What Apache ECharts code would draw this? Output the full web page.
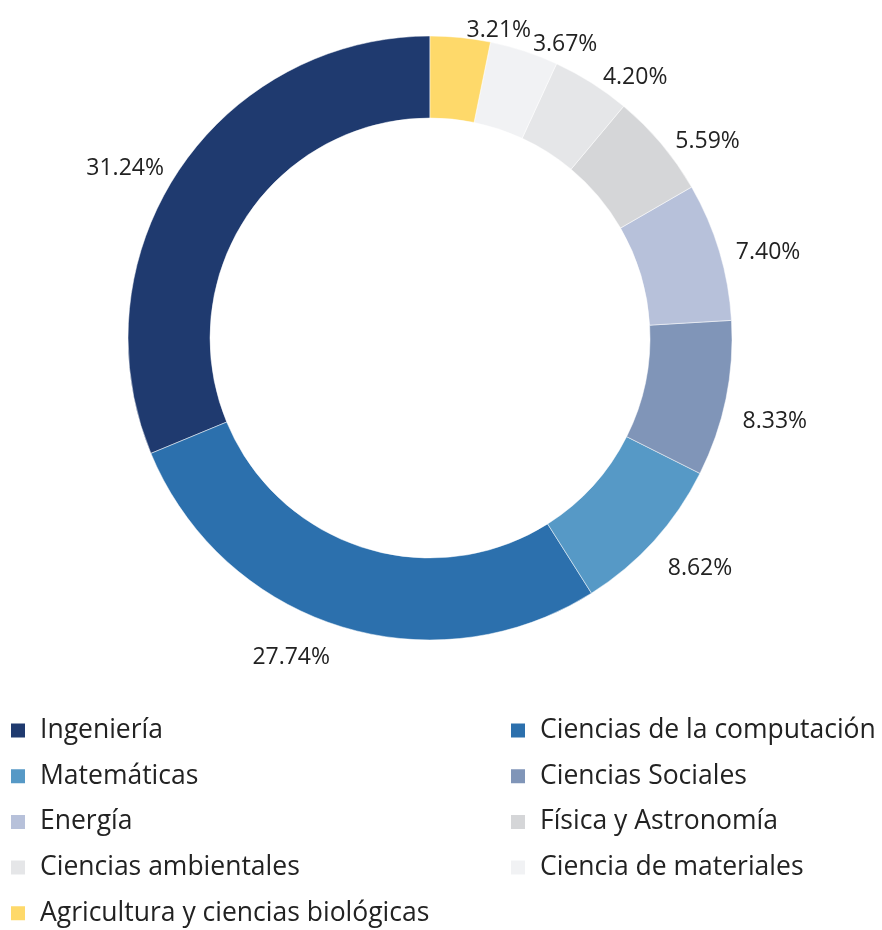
<!DOCTYPE html>
<html>
<head>
<meta charset="utf-8">
<script src="https://cdn.jsdelivr.net/npm/echarts@6/dist/echarts.min.js"></script>
<style>
  html, body { margin: 0; padding: 0; background: #fff; }
  #chart { width: 882px; height: 930px; }
</style>
</head>
<body>
<div id="chart"></div>
<script>
// areas, in legend order
var areas = ['Ingeniería', 'Ciencias de la computación', 'Matemáticas', 'Ciencias Sociales',
    'Energía', 'Física y Astronomía', 'Ciencias ambientales', 'Ciencia de materiales',
    'Agricultura y ciencias biológicas'];
var shares = [31.24, 27.74, 8.62, 8.33, 7.40, 5.59, 4.20, 3.67, 3.21];
var colors = ['#1f3a6f', '#2c70ad', '#5699c6', '#8095b8', '#b7c1da', '#d5d6d8', '#e5e6e8', '#f1f2f4', '#fed96a'];

// legend columns
var leftCol = [areas[0], areas[2], areas[4], areas[6], areas[8]];
var rightCol = [areas[1], areas[3], areas[5], areas[7]];

var chart = echarts.init(document.getElementById('chart'));

var font = '"Open Sans", "Noto Sans", sans-serif';
var cy = 338;

function legendCol(data, left) {
    return {
        data: data,
        orient: 'vertical',
        left: left,
        top: 717,
        height: 300,
        padding: 0,
        icon: 'rect',
        itemWidth: 16,
        itemHeight: 16,
        itemGap: 18.7,
        selectedMode: false,
        textStyle: {
            fontFamily: font,
            fontSize: 26.5,
            lineHeight: 24,
            color: '#222',
            padding: [0, 0, 0, 9]
        }
    };
}

chart.setOption({
    backgroundColor: '#fff',
    animation: false,
    color: colors,
    legend: [legendCol(leftCol, 9), legendCol(rightCol, 509)],
    series: [
        {
            type: 'pie',
            center: [430, cy],
            radius: [220, 302],
            startAngle: 90,
            clockwise: false,
            avoidLabelOverlap: false,
            emphasis: { disabled: true },
            itemStyle: {
                borderColor: '#fff',
                borderWidth: 0.5
            },
            label: {
                position: 'outside',
                fontFamily: font,
                fontSize: 23,
                color: '#222',
                formatter: function (p) {
                    return p.value.toFixed(2) + '%';
                }
            },
            labelLine: {
                show: false,
                length: 12,
                length2: 0
            },
            // push lower-half labels a bit further down
            labelLayout: function (p) {
                var mid = p.labelRect.y + p.labelRect.height / 2;
                return { dy: mid > cy ? 20 : 5 };
            },
            data: areas.map(function (name, i) {
                return { name: name, value: shares[i] };
            })
        }
    ]
});
</script>
</body>
</html>
